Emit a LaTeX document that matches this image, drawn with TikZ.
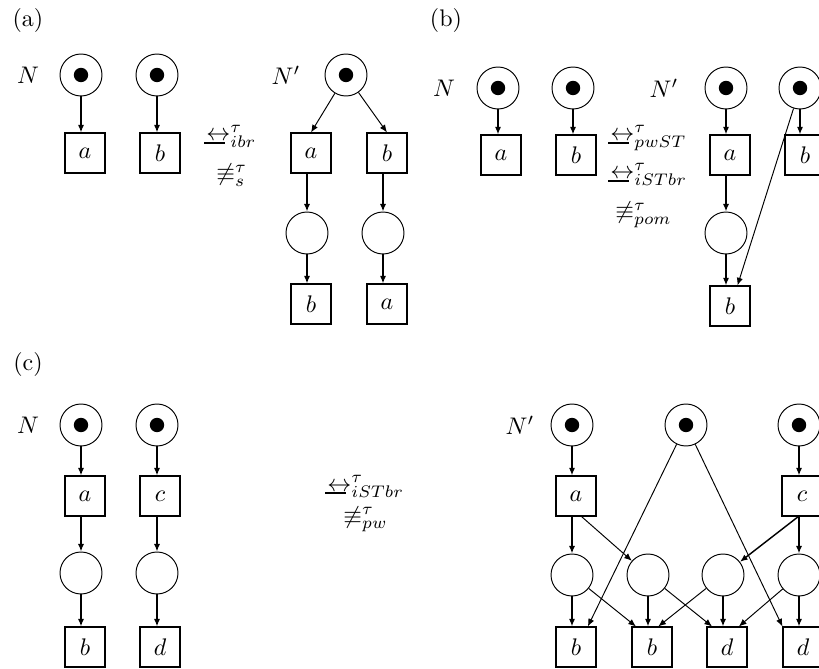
\documentclass[tikz,border=0pt]{standalone}
\usetikzlibrary{arrows.meta,calc}
\newcommand{\mybis}{\mathrel{\makebox[0pt][l]{\hspace{-1pt}\rule[-1.3pt]{8.6pt}{0.9pt}}\mbox{$\leftrightarrow$}}}
\begin{document}
\begin{tikzpicture}[x=0.41667pt,y=-0.41667pt,
  place/.style={circle,draw,line width=0.4pt,minimum size=17.5pt,inner sep=0pt},
  marked/.style={place,path picture={\fill (path picture bounding box.center) circle (3pt);}},
  trans/.style={draw,line width=0.8pt,minimum size=16.3pt,inner sep=0pt},
  arr/.style={-{Latex[length=3.2pt,width=2.6pt]},line width=0.6pt},
  tarr/.style={-{Latex[length=3.2pt,width=2.6pt]},line width=0.9pt},
  narr/.style={-{Latex[length=3.2pt,width=2.6pt]},line width=0.4pt},
  rel/.style={anchor=base west,inner sep=0pt}]
\useasboundingbox (0,0) rectangle (819,669);
\clip (0,0) rectangle (819,669);

% ---------- (a)
\node (la) at (28,21) {(a)};
\node (Na) at (28,75) {$N$};
\node[marked] (a1) at (81,75) {};
\node[marked] (a2) at (157,75) {};
\node[trans] (ta1) at (85,153) {$a$};
\node[trans] (ta2) at (160,153) {$b$};
\draw[arr] (a1) -- (a1 |- ta1.north);
\draw[arr] (a2) -- (a2 |- ta2.north);
\node[rel] (ra1) at (206,141) {$\mybis^{\tau}_{ibr}$};
\node[rel] (ra2) at (216,181) {$\not\equiv^{\tau}_{s}$};
\node (Npa) at (286,75) {$N'$};
\node[marked] (a3) at (346,75) {};
\node[trans] (ta3) at (311,153) {$a$};
\node[trans] (ta4) at (387,153) {$b$};
\node[place] (a4) at (307,233) {};
\node[place] (a5) at (383,233) {};
\node[trans] (ta5) at (311,304) {$b$};
\node[trans] (ta6) at (387,304) {$a$};
\draw[narr] (a3) -- (ta3.north);
\draw[narr] (a3) -- (ta4.north);
\draw[arr] (ta3.south -| a4) -- (a4);
\draw[arr] (ta4.south -| a5) -- (a5);
\draw[arr] (a4) -- (a4 |- ta5.north);
\draw[arr] (a5) -- (a5 |- ta6.north);

% ---------- (b)
\node (lb) at (446,21) {(b)};
\node (Nb) at (444,88) {$N$};
\node[marked] (b1) at (498,88) {};
\node[marked] (b2) at (573,88) {};
\node[trans] (tb1) at (501,155) {$a$};
\node[trans] (tb2) at (576,155) {$b$};
\draw[tarr] (b1) -- (b1 |- tb1.north);
\draw[arr] (b2) -- (b2 |- tb2.north);
\node[rel] (rb1) at (610,141) {$\mybis^{\tau}_{pwST}$};
\node[rel] (rb2) at (610,179) {$\mybis^{\tau}_{iSTbr}$};
\node[rel] (rb3) at (615,219) {$\not\equiv^{\tau}_{pom}$};
\node (Npb) at (664,88) {$N'$};
\node[marked] (b3) at (726,88) {};
\node[marked] (b4) at (800,88) {};
\node[trans] (tb3) at (730,155) {$a$};
\node[trans] (tb4) at (805,155) {$b$};
\node[place] (b5) at (726,233) {};
\node[trans] (tb5) at (730,306) {$b$};
\draw[tarr] (b3) -- (b3 |- tb3.north);
\draw[tarr] (b4) -- (b4 |- tb4.north);
\draw[tarr] (tb3.south -| b5) -- (b5);
\draw[tarr] (b5) -- (b5 |- tb5.north);
\draw[narr] (b4) -- (tb5.70);

% ---------- (c)
\node (lc) at (28,365) {(c)};
\node (Nc) at (28,425) {$N$};
\node[marked] (c1) at (81,425) {};
\node[marked] (c2) at (157,425) {};
\node[trans] (tc1) at (85,496) {$a$};
\node[trans] (tc2) at (160,496) {$c$};
\node[place] (c3) at (81,573) {};
\node[place] (c4) at (157,573) {};
\node[trans] (tc3) at (85,647) {$b$};
\node[trans] (tc4) at (160,647) {$d$};
\draw[arr] (c1) -- (c1 |- tc1.north);
\draw[arr] (c2) -- (c2 |- tc2.north);
\draw[arr] (tc1.south -| c3) -- (c3);
\draw[arr] (tc2.south -| c4) -- (c4);
\draw[arr] (c3) -- (c3 |- tc3.north);
\draw[arr] (c4) -- (c4 |- tc4.north);
\node[rel] (rc1) at (327,491) {$\mybis^{\tau}_{iSTbr}$};
\node[rel] (rc2) at (343,523) {$\not\equiv^{\tau}_{pw}$};

\node (Npc) at (520,425) {$N'$};
\node[marked] (d1) at (572,425) {};
\node[marked] (d2) at (686,425) {};
\node[marked] (d3) at (799,425) {};
\node[trans] (ua) at (576,496) {$a$};
\node[trans] (uc) at (802,496) {$c$};
\node[place] (q1) at (572,575) {};
\node[place] (q2) at (648,575) {};
\node[place] (q3) at (723,575) {};
\node[place] (q4) at (799,575) {};
\node[trans] (ub1) at (576,647) {$b$};
\node[trans] (ub2) at (652,647) {$b$};
\node[trans] (ud1) at (727,647) {$d$};
\node[trans] (ud2) at (803,647) {$d$};
\draw[tarr] (d1) -- (d1 |- ua.north);
\draw[tarr] (d3) -- (d3 |- uc.north);
\draw[tarr] (ua.south -| q1) -- (q1);
\draw[tarr] (uc.south -| q4) -- (q4);
\draw[narr] (ua.-75) -- (q2);
\draw[arr] (uc.-100) -- (q3);
\draw[narr] (d2) -- (ub1.60);
\draw[narr] (d2) -- (ud2.north west);
\draw[tarr] (q1) -- (q1 |- ub1.north);
\draw[narr] (q1) -- (ub2.128);
\draw[tarr] (q2) -- (q2 |- ub2.north);
\draw[narr] (q2) -- (ud1.126);
\draw[narr] (q3) -- (ub2.73);
\draw[arr] (q3) -- (q3 |- ud1.north);
\draw[narr] (q4) -- (ud1.60);
\draw[tarr] (q4) -- (q4 |- ud2.north);
\end{tikzpicture}
\end{document}
